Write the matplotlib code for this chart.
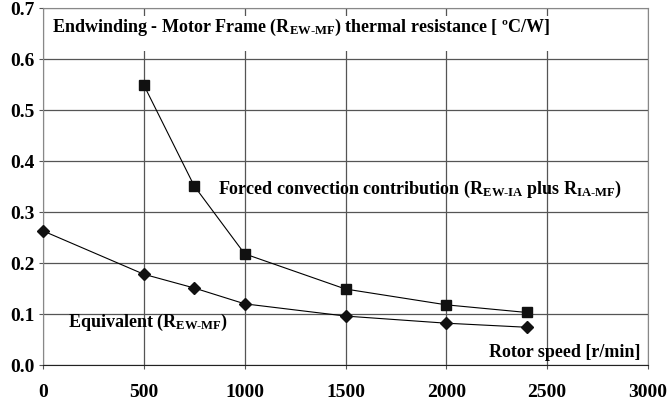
import numpy as np
import matplotlib
matplotlib.use("Agg")
import matplotlib.pyplot as plt
from matplotlib.patches import Rectangle

# rotor speed [r/min]
speed_forced = [500, 750, 1000, 1500, 2000, 2400]
r_forced = [0.549, 0.351, 0.218, 0.149, 0.118, 0.103]

speed_equiv = [0, 500, 750, 1000, 1500, 2000, 2400]
r_equiv = [0.263, 0.178, 0.151, 0.120, 0.096, 0.082, 0.074]

xticks = [0, 500, 1000, 1500, 2000, 2500, 3000]
yticks = [0.0, 0.1, 0.2, 0.3, 0.4, 0.5, 0.6, 0.7]

plt.rcParams['font.family'] = ['Liberation Serif', 'DejaVu Serif']
plt.rcParams['font.weight'] = 'bold'
plt.rcParams['mathtext.fontset'] = 'custom'
plt.rcParams['mathtext.rm'] = 'Liberation Serif:bold'
plt.rcParams['mathtext.bf'] = 'Liberation Serif:bold'
plt.rcParams['mathtext.it'] = 'Liberation Serif:bold'

fig = plt.figure(figsize=(6.67, 4.04), dpi=100)
ax = fig.add_axes([0.0645, 0.0965, 0.907, 0.8835])

ax.plot(speed_forced, r_forced, color='black', lw=0.8, marker='s', ms=7.5,
        markerfacecolor='#111111', markeredgecolor='#111111', zorder=3)
ax.plot(speed_equiv, r_equiv, color='black', lw=0.8, marker='D', ms=6,
        markerfacecolor='#111111', markeredgecolor='#111111', zorder=3,
        clip_on=False)

ax.set_xlim(0, 3000)
ax.set_ylim(0, 0.7)
ax.set_xticks(xticks)
ax.set_yticks(yticks)
ax.set_yticklabels([f"{v:.1f}" for v in yticks])
ax.tick_params(axis='both', labelsize=14, length=3, width=0.8, color='#555555')
ax.tick_params(axis='x', pad=11)
ax.tick_params(axis='y', pad=3)
ax.grid(True, color='#555555', lw=0.9)
ax.set_axisbelow(True)

for s in ['left', 'right', 'top']:
    ax.spines[s].set_color('#888888')
ax.spines['bottom'].set_color('#222222')

# white box behind the title text
ax.add_patch(Rectangle((0.004, 0.880), 0.99, 0.098, transform=ax.transAxes,
                       facecolor='white', edgecolor='none', zorder=2))
ax.text(0.015, 0.933, r"Endwinding - Motor Frame (R$_{\text{EW-MF}}$) thermal resistance [ ºC/W]",
        transform=ax.transAxes, fontsize=13, fontweight='bold', va='baseline', zorder=4)

ax.text(868, 0.345, r"Forced convection contribution (R$_{\text{EW-IA}}$ plus R$_{\text{IA-MF}}$)",
        fontsize=13, fontweight='bold', va='center')
ax.text(124, 0.084, r"Equivalent (R$_{\text{EW-MF}}$)",
        fontsize=13, fontweight='bold', va='center')
ax.text(2965, 0.025, "Rotor speed [r/min]",
        fontsize=13, fontweight='bold', va='center', ha='right')

fig.savefig("out.png", dpi=100)
